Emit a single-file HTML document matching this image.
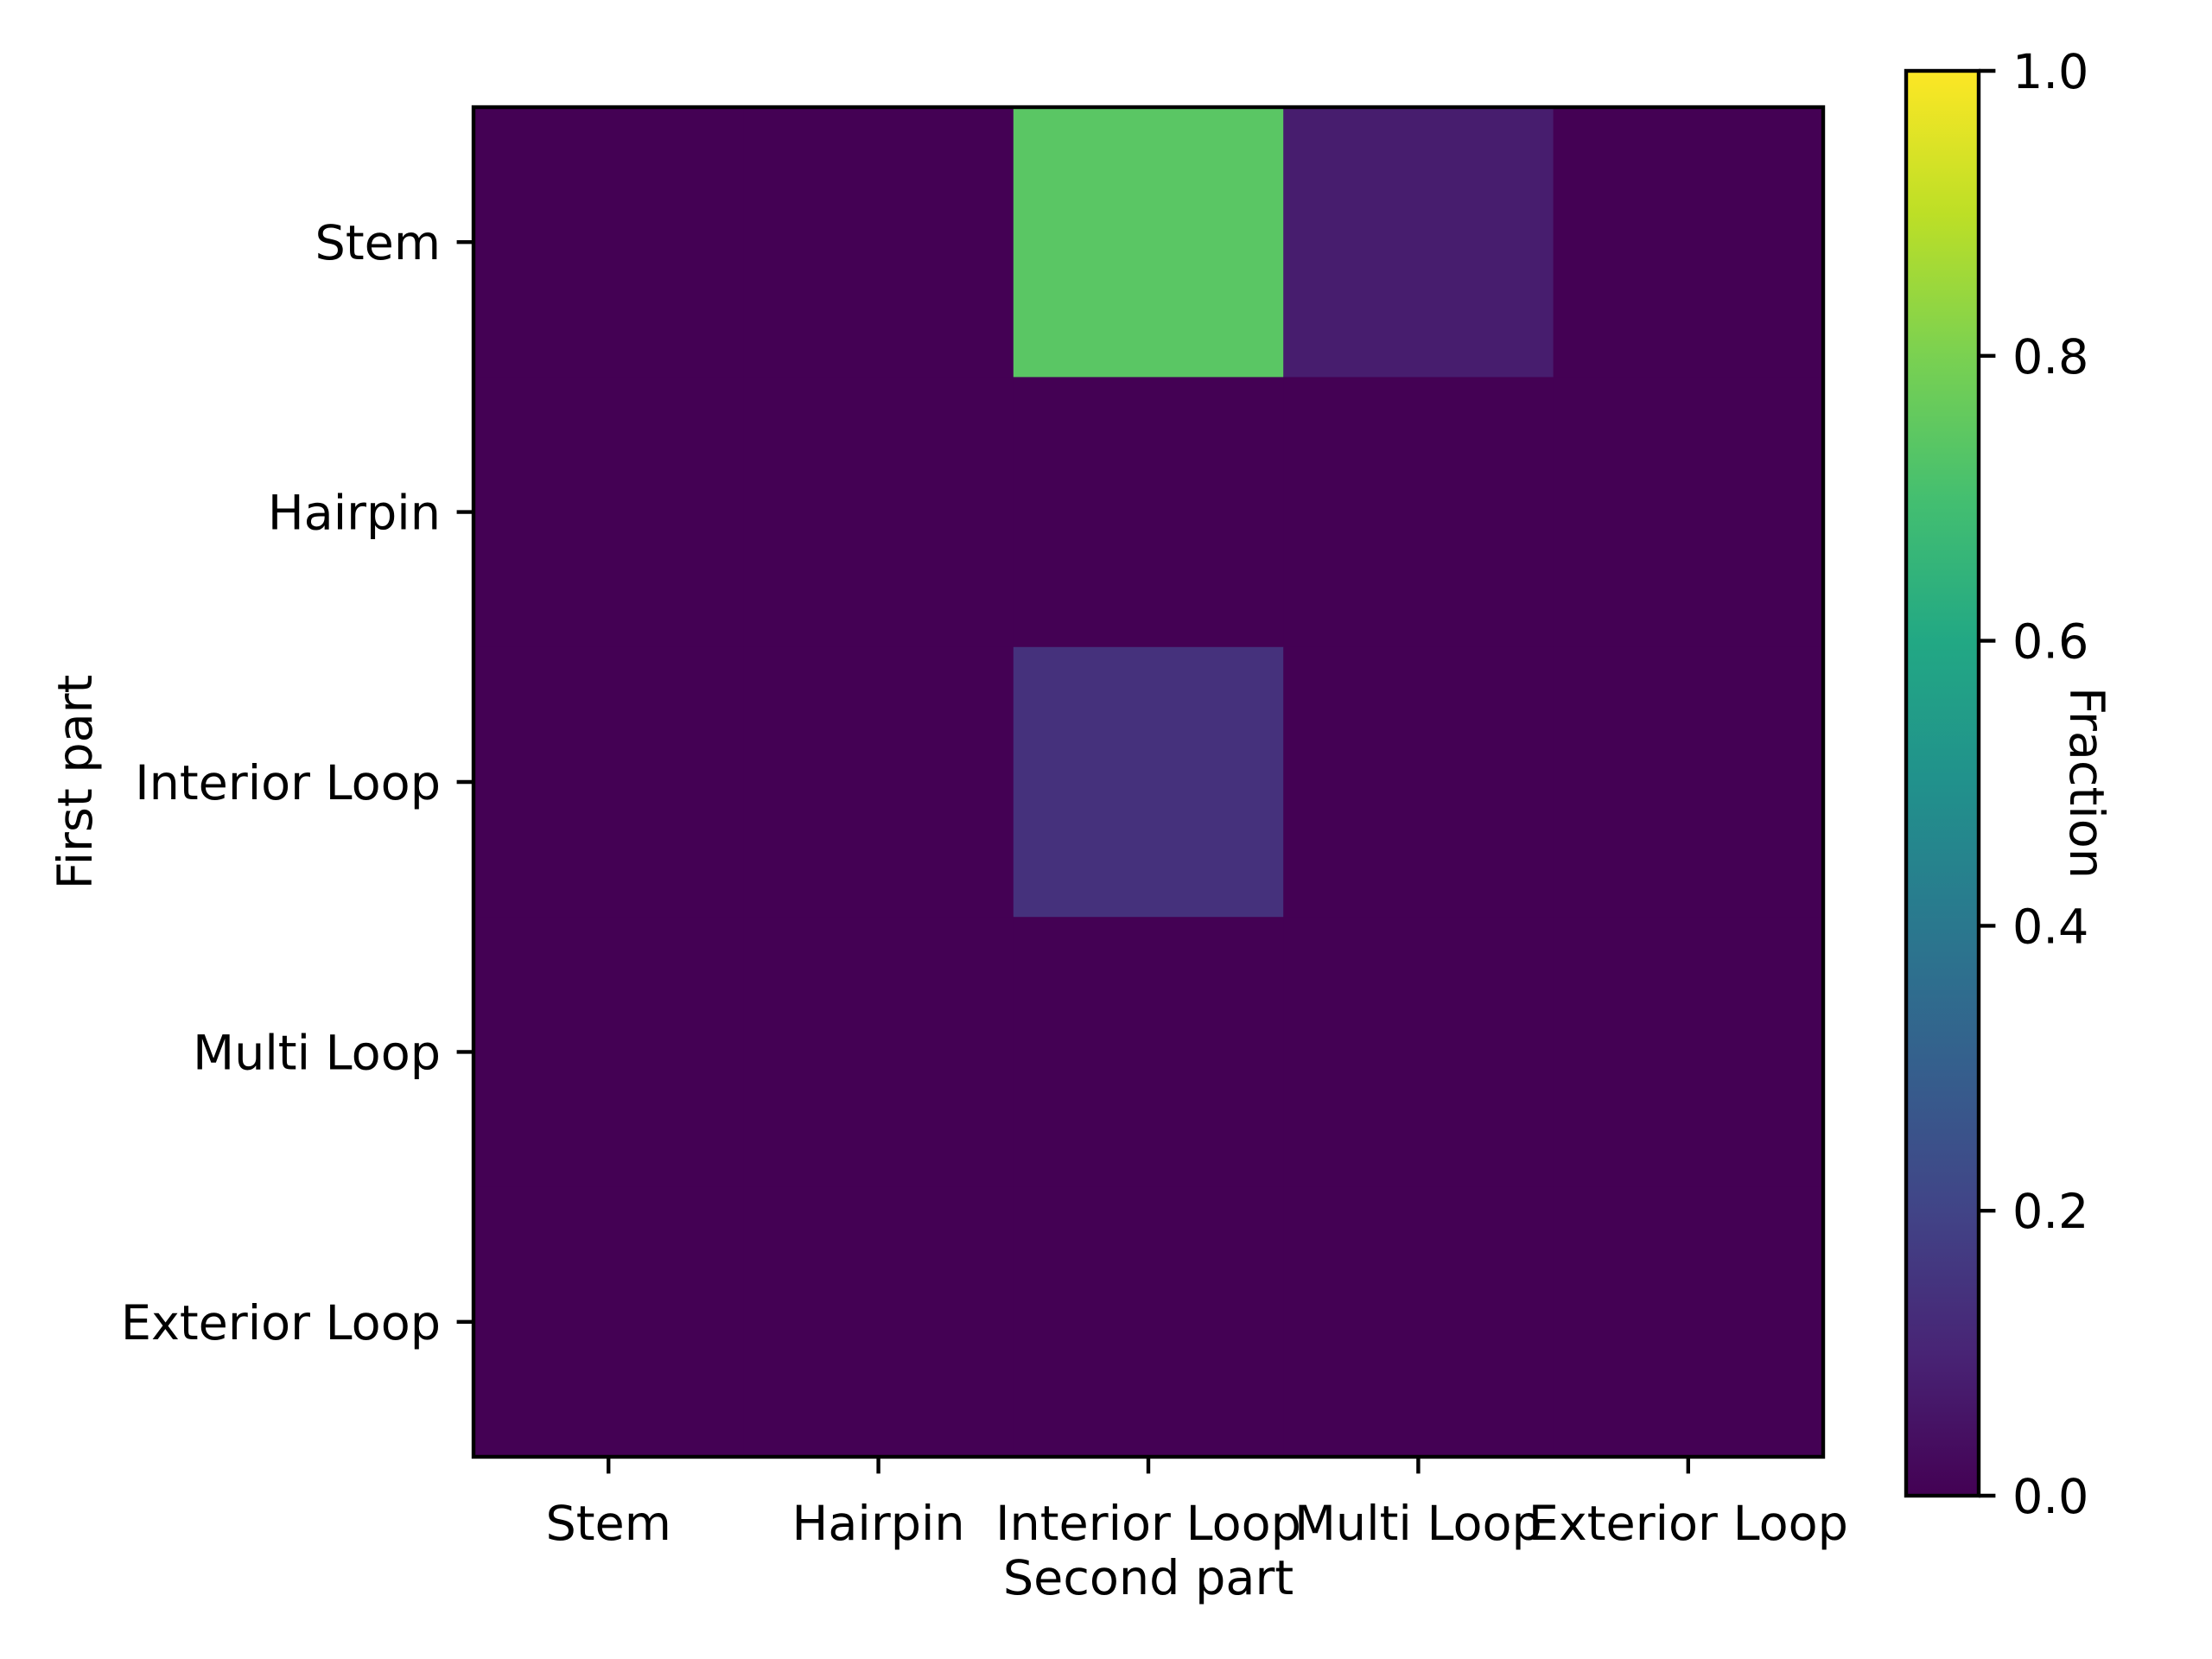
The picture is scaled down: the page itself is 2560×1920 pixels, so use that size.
<!DOCTYPE html>
<html><head><meta charset="utf-8"><style>
html,body{margin:0;padding:0;background:#fff;}
svg{display:block;}
text{font-family:"DejaVu Sans","Liberation Sans",sans-serif;fill:#000;}
</style></head><body>
<svg id="chart" width="2560" height="1920" viewBox="0 0 2560 1920" xmlns="http://www.w3.org/2000/svg">
<defs>
<linearGradient id="viridis" x1="0" y1="1" x2="0" y2="0">
<stop offset="0" stop-color="#440154"/><stop offset="0.1" stop-color="#482475"/><stop offset="0.2" stop-color="#414487"/><stop offset="0.3" stop-color="#355f8d"/><stop offset="0.4" stop-color="#2a788e"/><stop offset="0.5" stop-color="#21918c"/><stop offset="0.6" stop-color="#22a884"/><stop offset="0.7" stop-color="#44bf70"/><stop offset="0.8" stop-color="#7ad151"/><stop offset="0.9" stop-color="#bddf26"/><stop offset="1" stop-color="#fde725"/>
</linearGradient>
</defs>
<g id="cells"></g>
<rect x="548" y="124" width="1562" height="1562" fill="none" stroke="#000" stroke-width="4.4"/>
<g id="xaxis"></g>
<g id="yaxis"></g>
<text x="1329" y="1845" font-size="55.6" text-anchor="middle">Second part</text>
<text transform="translate(106,905) rotate(-90)" font-size="55.6" text-anchor="middle">First part</text>
<rect x="2206" y="82" width="84" height="1649" fill="url(#viridis)" stroke="#000" stroke-width="4.4"/>
<g id="cbaxis"></g>
<text transform="translate(2396,906) rotate(90)" font-size="55.6" text-anchor="middle">Fraction</text>
</svg>
<script>
const rowLabels = ["Stem","Hairpin","Interior Loop","Multi Loop","Exterior Loop"];
const colLabels = ["Stem","Hairpin","Interior Loop","Multi Loop","Exterior Loop"];
const rowStem = [0,0,0.74,0.08,0];
const rowHairpin = [0,0,0,0,0];
const rowInterior = [0,0,0.14,0,0];
const rowMulti = [0,0,0,0,0];
const rowExterior = [0,0,0,0,0];
const cbTicks = [0,0.2,0.4,0.6,0.8,1.0];
const cbTickLabels = ["0.0","0.2","0.4","0.6","0.8","1.0"];

const NS="http://www.w3.org/2000/svg";
const matrix=[rowStem,rowHairpin,rowInterior,rowMulti,rowExterior];
const AX={l:548,t:124,w:1562,h:1562};
const CB={t:82,b:1731,x:2290};
const stops=["#440154","#482475","#414487","#355f8d","#2a788e","#21918c","#22a884","#44bf70","#7ad151","#bddf26","#fde725"];
function hex(c){return [1,3,5].map(i=>parseInt(c.substr(i,2),16));}
function viridis(v){v=Math.max(0,Math.min(1,v));const p=v*10,i=Math.min(9,Math.floor(p)),f=p-i;const a=hex(stops[i]),b=hex(stops[i+1]);return "rgb("+a.map((x,k)=>Math.round(x+(b[k]-x)*f)).join(",")+")";}
const cw=AX.w/colLabels.length, ch=AX.h/rowLabels.length;
function xPos(j){return AX.l+j*cw;}
function yPos(i){return AX.t+i*ch;}
function cbY(v){return CB.b-(CB.b-CB.t)*v;}
function mk(tag,attrs){const e=document.createElementNS(NS,tag);for(const k in attrs)e.setAttribute(k,attrs[k]);return e;}
const cells=document.getElementById('cells');
matrix.forEach((row,i)=>row.forEach((v,j)=>{
  const r=mk('rect',{x:xPos(j),y:yPos(i),width:cw+0.5,height:ch+0.5,fill:viridis(v)});
  
  
  cells.appendChild(r);
}));
const xa=document.getElementById('xaxis');
colLabels.forEach((lab,j)=>{
  const x=xPos(j)+cw/2;
  const t=mk('line',{x1:x,x2:x,y1:AX.t+AX.h,y2:AX.t+AX.h+19.4,stroke:'#000','stroke-width':4.4});
  
  
  xa.appendChild(t);
  const tx=mk('text',{x:x,y:1782,'font-size':55.6,'text-anchor':'middle'});
  
  
  tx.textContent=lab;xa.appendChild(tx);
});
const ya=document.getElementById('yaxis');
rowLabels.forEach((lab,i)=>{
  const y=yPos(i)+ch/2;
  const t=mk('line',{x1:AX.l-19.4,x2:AX.l,y1:y,y2:y,stroke:'#000','stroke-width':4.4});
  
  
  ya.appendChild(t);
  const tx=mk('text',{x:510,y:y+20,'font-size':55.6,'text-anchor':'end'});
  
  
  tx.textContent=lab;ya.appendChild(tx);
});
const cba=document.getElementById('cbaxis');
cbTicks.forEach((v,k)=>{
  const y=cbY(v);
  const t=mk('line',{x1:CB.x,x2:CB.x+19.4,y1:y,y2:y,stroke:'#000','stroke-width':4.4});
  
  
  cba.appendChild(t);
  const tx=mk('text',{x:2329,y:y+20,'font-size':55.6});
  
  
  tx.textContent=cbTickLabels[k];cba.appendChild(tx);
});
</script>
</body></html>
